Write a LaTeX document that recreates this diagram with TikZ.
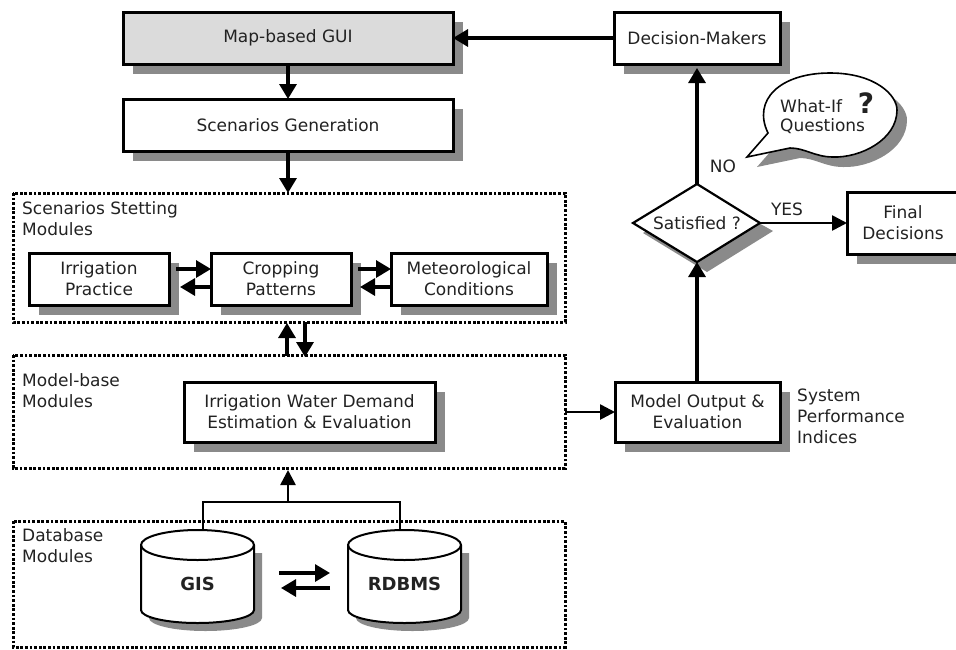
\documentclass[tikz,border=0pt]{standalone}
\usepackage{fontspec}
\setmainfont{DejaVu Sans}
\usetikzlibrary{arrows.meta}
\definecolor{ink}{HTML}{222222}
\definecolor{shcol}{HTML}{8A8A8A}
\tikzset{
  x=1pt,y=-1pt,
  lab/.style={inner sep=0pt,text=ink,font=\fontsize{17}{21}\selectfont,align=center},
  lableft/.style={lab,align=left,anchor=west},
  solidbox/.style={draw=black,line width=3pt,fill=white},
  dotbox/.style={draw=black,line width=3pt,dash pattern=on 2.8pt off 1.8pt},
  arrow/.style={line width=3.2pt,-{Triangle[length=15pt,width=17pt]}},
  thinarrow/.style={line width=2.6pt,-{Triangle[length=15pt,width=15pt]}},
  thinline/.style={line width=2.6pt},
}
\newcommand{\shbox}[7][white]{% fill, name, x1,y1,x2,y2, text
  \fill[shcol] (#3+10,#4+10) rectangle (#5+10,#6+10);
  \draw[solidbox,fill=#1] (#3,#4) rectangle (#5,#6);
  \node[lab] (#2) at ({(#3+#5)/2},{(#4+#6)/2}) {#7};
  \coordinate (#2N) at ({(#3+#5)/2},#4);
  \coordinate (#2S) at ({(#3+#5)/2},#6);
  \coordinate (#2W) at (#3,{(#4+#6)/2});
  \coordinate (#2E) at (#5,{(#4+#6)/2});
}
\newcommand{\cyl}[4]{% name, x1, x2, text
  \fill[shcol] (#2+8,553) -- (#2+8,618) arc[start angle=180,end angle=360,x radius={(#3-#2)/2},y radius=-13] -- (#3+8,553) -- cycle;
  \draw[line width=2pt,fill=white] (#2,545) arc[start angle=180,end angle=0,x radius={(#3-#2)/2},y radius=-15]
     -- (#3,610) arc[start angle=360,end angle=180,x radius={(#3-#2)/2},y radius=-13] -- cycle;
  \draw[line width=2pt] (#2,545) arc[start angle=180,end angle=360,x radius={(#3-#2)/2},y radius=-15];
  \node[lab,font=\fontsize{18}{20}\selectfont\bfseries] (#1) at ({(#2+#3)/2},584) {#4};
}
\begin{document}
\begin{tikzpicture}
\useasboundingbox (0,0) rectangle (956,649);
% dotted module frames
\draw[dotbox] (13,193) rectangle (565,322);
\draw[dotbox] (13,355) rectangle (565,468);
\draw[dotbox] (13,521) rectangle (565,647);
\node[lableft] (lab1) at (22,219) {Scenarios Stetting\\Modules};
\node[lableft] (lab2) at (22,391) {Model-base\\Modules};
\node[lableft] (lab3) at (22,546) {Database\\Modules};
% boxes
\shbox[gray!28]{gui}{123}{12}{453}{64}{Map-based GUI}
\shbox{scen}{123}{99}{453}{151}{Scenarios Generation}
\shbox{irr}{29}{253}{169}{305}{Irrigation\\Practice}
\shbox{crop}{211}{253}{351}{305}{Cropping\\Patterns}
\shbox{met}{391}{253}{547}{305}{Meteorological\\Conditions}
\shbox{iwd}{184}{382}{435}{442}{Irrigation Water Demand\\Estimation \& Evaluation}
\shbox{out}{615}{382}{780}{442}{Model Output \&\\Evaluation}
\shbox{dm}{614}{12}{780}{64}{Decision-Makers}
\shbox{fin}{847}{192}{959}{254}{Final\\Decisions}
% diamond
\fill[shcol] (643,233) -- (707,194) -- (773,231) -- (707,272) -- cycle;
\draw[line width=2.2pt,fill=white] (633,223) -- (697,184) -- (760,223) -- (697,262) -- cycle;
\node[lab] (sat) at (697,223) {Satisfied ?};
\coordinate (satN) at (697,184);
\coordinate (satS) at (697,262);
\coordinate (satE) at (760,223);
% speech bubble
\fill[shcol] (757,167) -- (778,143) .. controls (762,110) and (790,83) .. (840,83) .. controls (885,83) and (907,105) .. (907,120) .. controls (907,150) and (870,168) .. (843,167) .. controls (825,167) and (815,158) .. (800,158) -- cycle;
\draw[line width=1.6pt,fill=white] (747,157) -- (768,133) .. controls (752,100) and (780,73) .. (830,73) .. controls (875,73) and (897,95) .. (897,110) .. controls (897,140) and (860,158) .. (833,157) .. controls (815,157) and (805,148) .. (790,148) -- cycle;
\node[lableft] (whatif) at (780,106) {What-If};
\node[lableft] (quest) at (780,126) {Questions};
\node[lab,font=\fontsize{28}{28}\selectfont\bfseries] (qm) at (866,103) {?};
% cylinders
\cyl{gis}{141}{254}{GIS}
\cyl{rdb}{348}{461}{RDBMS}
\coordinate (gisT) at (203,530);
\coordinate (rdbT) at (400,530);
\coordinate (modB) at (288,470);
\coordinate (junc) at (288,502);
\coordinate (scenA) at (288,193);
\coordinate (dmA) at (697,68);
% connectors
\draw[arrow] (dmW) -- (guiE);
\draw[arrow] (guiS) -- (scenN);
\draw[arrow] (scenS) -- (scenA);
\draw[arrow] (176,269) -- (cropW |- 0,269);
\draw[arrow] (cropW |- 0,287) -- (180,287);
\draw[arrow] (358,269) -- (metW |- 0,269);
\draw[arrow] (metW |- 0,287) -- (360,287);
\draw[arrow] (287,356) -- (287,323);
\draw[arrow] (305,322) -- (305,357);
\draw[thinline] (gisT) -- (203,502) -- (400,502) -- (rdbT);
\draw[thinarrow] (junc) -- (modB);
\draw[arrow] (279,573) -- (330,573);
\draw[arrow] (330,588) -- (281,588);
\draw[thinarrow] (565,412) -- (outW);
\draw[arrow] (satS |- outN) -- (satS);
\draw[arrow] (satN) -- (dmA);
\draw[thinarrow] (satE) -- (finW |- satE);
\node[lab] (no) at (723,166) {NO};
\node[lab] (yes) at (787,209) {YES};
\node[lableft] (spi) at (797,416) {System\\Performance\\Indices};
\end{tikzpicture}
\end{document}
